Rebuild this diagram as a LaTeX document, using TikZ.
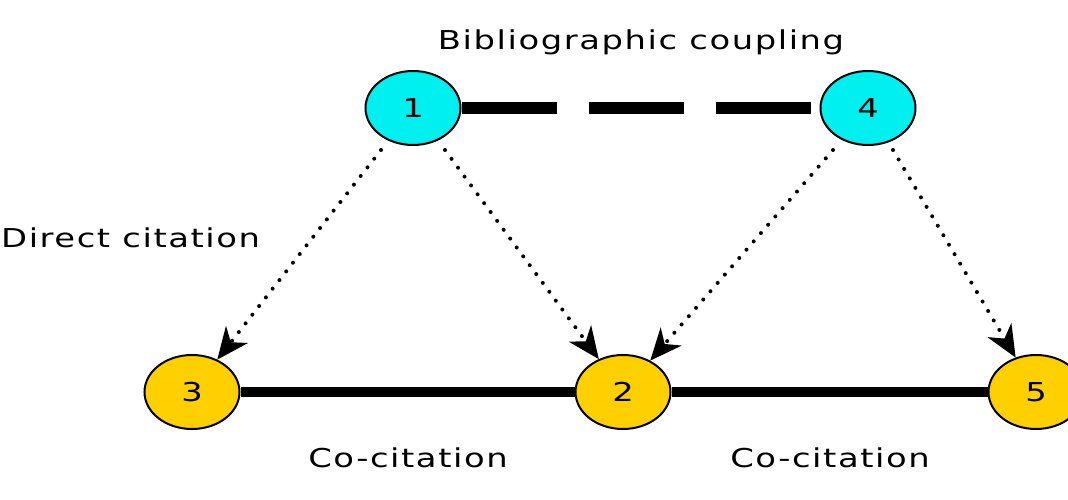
\documentclass[tikz,border=0pt]{standalone}
\usepackage{fontspec}
\setmainfont{DejaVu Sans}[FakeStretch=1.3,LetterSpace=6]
\usetikzlibrary{shapes.geometric,arrows.meta}
\definecolor{nodecyan}{RGB}{0,240,240}
\definecolor{nodegold}{RGB}{255,208,0}
\tikzset{
  paper/.style={ellipse,draw=black,line width=2pt,minimum width=95pt,minimum height=74pt,inner sep=0pt,font=\fontsize{26}{30}\selectfont},
  citing/.style={paper,fill=nodecyan},
  cited/.style={paper,fill=nodegold},
  label/.style={anchor=base,font=\fontsize{26}{30}\selectfont},
  cite/.style={line width=4pt,line cap=round,dash pattern=on 0pt off 11pt,
    -{Stealth[length=32pt,width=28pt,inset=10pt,line cap=butt,line width=0pt]}},
  couple/.style={line width=12pt,dash pattern=on 95pt off 32pt},
  cocite/.style={line width=10pt}
}
\begin{document}
\begin{tikzpicture}[x=1pt,y=-1pt]
\useasboundingbox (0,0) rectangle (1068,500);
\node[citing] (n1) at (413,108) {1};
\node[citing] (n4) at (868,108) {4};
\node[cited] (n3) at (192,392) {3};
\node[cited] (n2) at (623,392) {2};
\node[cited] (n5) at (1036,392) {5};
\coordinate (s13) at (381,150);
\coordinate (s12) at (445,150);
\coordinate (s42) at (833,150);
\coordinate (s45) at (893,150);
\draw[couple] (n1) -- (n4);
\draw[cocite] (n3) -- (n2);
\draw[cocite] (n2) -- (n5);
\draw[cite] (s13) -- (n3);
\draw[cite] (s12) -- (n2);
\draw[cite] (s42) -- (n2);
\draw[cite] (s45) -- (n5);
\node[label] (tbc) at (641,50) {Bibliographic coupling};
\node[label,anchor=base west,inner sep=0pt] (tdc) at (1,247) {Direct citation};
\node[label] (tcc1) at (408,467) {Co-citation};
\node[label] (tcc2) at (830,467) {Co-citation};
\end{tikzpicture}
\end{document}
